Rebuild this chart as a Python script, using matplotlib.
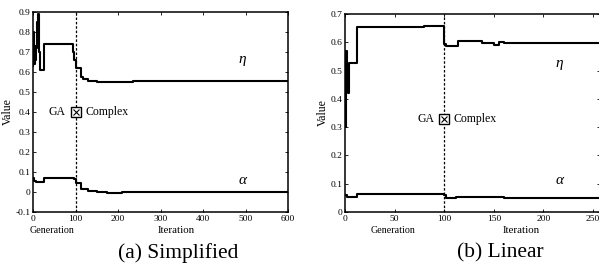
import numpy as np
import matplotlib
matplotlib.use("Agg")
import matplotlib.pyplot as plt

plt.rcParams['font.family'] = ['Liberation Serif', 'DejaVu Serif']

# --- data -------------------------------------------------------------------
# (a) Simplified: generations 0-100, then complex-method iterations up to 600
a_eta_x = [0, 1, 2, 3, 4, 5, 7, 9, 11, 13, 15, 16, 27, 94, 97, 100, 102, 112,
           118, 130, 150, 185, 205, 215, 235, 250, 380, 600]
a_eta_y = [0.63, 0.80, 0.70, 0.64, 0.73, 0.66, 0.72, 0.85, 0.89, 0.86, 0.70,
           0.61, 0.74, 0.70, 0.66, 0.65, 0.62, 0.575, 0.565, 0.557, 0.550,
           0.548, 0.552, 0.548, 0.553, 0.553, 0.555, 0.555]
a_alp_x = [0, 3, 8, 27, 96, 100, 113, 129, 150, 175, 210, 240, 600]
a_alp_y = [0.068, 0.055, 0.050, 0.072, 0.065, 0.043, 0.013, 0.003, -0.002,
           -0.004, -0.002, 0.0, 0.0]

# (b) Linear: generations 0-100, then iterations up to ~257
b_eta_x = [0, 1, 2, 3, 4, 12.5, 80, 100, 102, 114, 138, 150, 155, 160, 257]
b_eta_y = [0.30, 0.57, 0.45, 0.42, 0.525, 0.655, 0.658, 0.594, 0.588, 0.605,
           0.598, 0.592, 0.602, 0.597, 0.597]
b_alp_x = [0, 2, 12, 100, 102, 112, 160, 165, 257]
b_alp_y = [0.060, 0.053, 0.062, 0.060, 0.050, 0.052, 0.051, 0.050, 0.050]

a_xticks = [0, 100, 200, 300, 400, 500, 600]
a_yticks = [-0.1, 0, 0.1, 0.2, 0.3, 0.4, 0.5, 0.6, 0.7, 0.8, 0.9]
a_ylabels = ['-0.1', '0', '0.1', '0.2', '0.3', '0.4', '0.5', '0.6', '0.7', '0.8', '0.9']
b_xticks = [0, 50, 100, 150, 200, 250]
b_yticks = [0, 0.1, 0.2, 0.3, 0.4, 0.5, 0.6, 0.7]
b_ylabels = ['0', '0.1', '0.2', '0.3', '0.4', '0.5', '0.6', '0.7']

W, H = 599, 271
fig = plt.figure(figsize=(W / 100, H / 100), dpi=100)


def px_axes(l, r, t, b):
    return fig.add_axes([l / W, (H - b) / H, (r - l) / W, (b - t) / H])


def panel(ax, ex, ey, ax_, ay, xlim, ylim, xt, yt, yl, switch_y, eta_pos, alp_pos,
          gen_x, it_x, caption, cap_x):
    ax.step(ex, ey, where='post', color='black', lw=1.5)
    ax.step(ax_, ay, where='post', color='black', lw=1.5)
    ax.axvline(100, color='black', lw=0.9, ls=(0, (2, 1.5)))
    ax.plot([100], [switch_y], marker='s', ms=6.5, mfc='white', mec='black', mew=1.0)
    ax.plot([100], [switch_y], marker='x', ms=4.5, color='black', mew=0.8)
    ax.annotate('GA', (100, switch_y), xytext=(-7, 0), textcoords='offset points',
                ha='right', va='center', fontsize=8.5)
    ax.annotate('Complex', (100, switch_y), xytext=(7, 0), textcoords='offset points',
                ha='left', va='center', fontsize=8.5)
    ax.text(*eta_pos, 'η', style='italic', fontsize=11, ha='center', va='center')
    ax.text(*alp_pos, 'α', style='italic', fontsize=11, ha='center', va='center')
    ax.set_xlim(*xlim); ax.set_ylim(*ylim)
    ax.set_xticks(xt); ax.set_xticklabels([str(v) for v in xt])
    ax.set_yticks(yt); ax.set_yticklabels(yl)
    ax.tick_params(direction='in', length=2.5, width=0.6, labelsize=6.8, pad=2,
                   top=True, right=True)
    for s in ax.spines.values():
        s.set_linewidth(1.1)
    ax.annotate('Generation', (gen_x, 0), xycoords=('data', 'axes fraction'),
                xytext=(0, -13.5), textcoords='offset points', ha='center', va='center',
                fontsize=7.2)
    ax.annotate('Iteration', (it_x, 0), xycoords=('data', 'axes fraction'),
                xytext=(0, -13), textcoords='offset points', ha='center', va='center',
                fontsize=7.8)
    ax.set_ylabel('Value', fontsize=8.5, labelpad=1)
    fig.text(cap_x / W, (H - 253) / H, caption, ha='center', va='center', fontsize=15.5)


ax1 = px_axes(33, 288, 12, 212)
panel(ax1, a_eta_x, a_eta_y, a_alp_x, a_alp_y, (0, 600), (-0.1, 0.9),
      a_xticks, a_yticks, a_ylabels, 0.40, (492, 0.66), (492, 0.06),
      45, 338, '(a) Simplified', 178)

ax2 = px_axes(345, 600, 14, 212)
panel(ax2, b_eta_x, b_eta_y, b_alp_x, b_alp_y, (0, 257), (0, 0.7),
      b_xticks, b_yticks, b_ylabels, 0.33, (216, 0.525), (216, 0.113),
      48, 178, '(b) Linear', 500)

fig.savefig('out.png', dpi=100)
